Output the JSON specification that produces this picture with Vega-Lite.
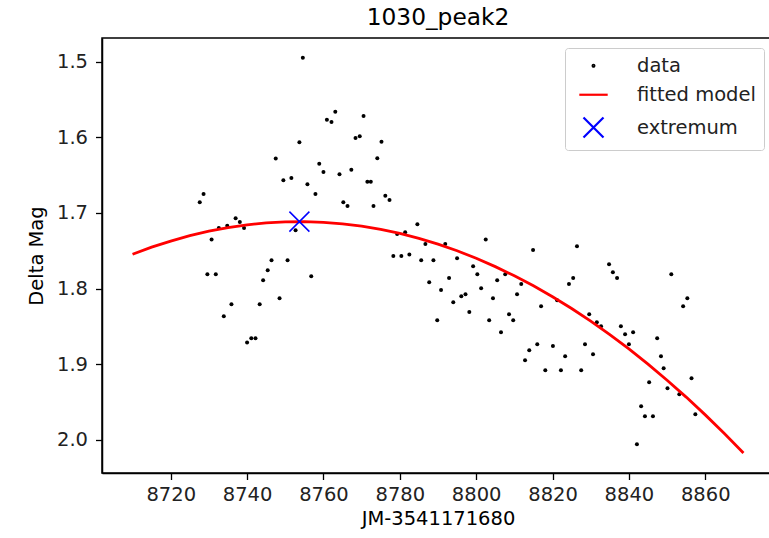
{
  "$schema": "https://vega.github.io/schema/vega-lite/v6.json",
  "width": 672,
  "height": 435,
  "autosize": {"type": "none"},
  "padding": {"left": 102, "top": 38, "right": 0, "bottom": 65},
  "background": "white",
  "title": {"text": "1030_peak2", "fontSize": 23.3, "font": "DejaVu Sans", "fontWeight": "normal", "color": "black", "offset": 8},
  "datasets": {
    "points": [
      {"t": 8754.6, "mag": 1.495}, {"t": 8753.7, "mag": 1.6065}, {"t": 8747.5, "mag": 1.628}, {"t": 8749.5, "mag": 1.657},
      {"t": 8751.6, "mag": 1.654}, {"t": 8755.8, "mag": 1.662}, {"t": 8757.9, "mag": 1.675}, {"t": 8758.9, "mag": 1.635},
      {"t": 8728.6, "mag": 1.675}, {"t": 8727.6, "mag": 1.686}, {"t": 8737.0, "mag": 1.707}, {"t": 8738.1, "mag": 1.712},
      {"t": 8739.2, "mag": 1.720}, {"t": 8734.8, "mag": 1.717}, {"t": 8732.6, "mag": 1.720}, {"t": 8730.7, "mag": 1.735},
      {"t": 8752.7, "mag": 1.723}, {"t": 8729.6, "mag": 1.781}, {"t": 8731.8, "mag": 1.781}, {"t": 8735.9, "mag": 1.8207},
      {"t": 8733.9, "mag": 1.8365}, {"t": 8740.0, "mag": 1.8714}, {"t": 8741.1, "mag": 1.8656}, {"t": 8742.2, "mag": 1.8656},
      {"t": 8743.3, "mag": 1.8207}, {"t": 8744.2, "mag": 1.789}, {"t": 8745.4, "mag": 1.7757}, {"t": 8746.4, "mag": 1.7625},
      {"t": 8748.5, "mag": 1.8128}, {"t": 8750.6, "mag": 1.7625}, {"t": 8756.8, "mag": 1.7836}, {"t": 8763.1, "mag": 1.5665},
      {"t": 8760.9, "mag": 1.577}, {"t": 8762.1, "mag": 1.580}, {"t": 8770.5, "mag": 1.572}, {"t": 8768.4, "mag": 1.601},
      {"t": 8769.5, "mag": 1.5986}, {"t": 8775.2, "mag": 1.6061}, {"t": 8774.1, "mag": 1.6277}, {"t": 8760.0, "mag": 1.646},
      {"t": 8764.2, "mag": 1.649}, {"t": 8767.3, "mag": 1.643}, {"t": 8771.5, "mag": 1.659}, {"t": 8772.4, "mag": 1.659},
      {"t": 8765.2, "mag": 1.686}, {"t": 8766.3, "mag": 1.691}, {"t": 8773.1, "mag": 1.691}, {"t": 8776.2, "mag": 1.6775},
      {"t": 8777.3, "mag": 1.683}, {"t": 8784.6, "mag": 1.715}, {"t": 8781.4, "mag": 1.7255}, {"t": 8779.3, "mag": 1.728},
      {"t": 8802.5, "mag": 1.735}, {"t": 8778.3, "mag": 1.757}, {"t": 8780.4, "mag": 1.757}, {"t": 8782.5, "mag": 1.755},
      {"t": 8786.7, "mag": 1.741}, {"t": 8785.6, "mag": 1.7625}, {"t": 8788.8, "mag": 1.7625}, {"t": 8791.9, "mag": 1.741},
      {"t": 8787.7, "mag": 1.7916}, {"t": 8790.8, "mag": 1.802}, {"t": 8792.9, "mag": 1.786}, {"t": 8795.0, "mag": 1.760},
      {"t": 8794.0, "mag": 1.818}, {"t": 8796.1, "mag": 1.810}, {"t": 8797.2, "mag": 1.8074}, {"t": 8789.8, "mag": 1.8418},
      {"t": 8798.2, "mag": 1.831}, {"t": 8799.2, "mag": 1.7704}, {"t": 8800.3, "mag": 1.781}, {"t": 8801.3, "mag": 1.7995},
      {"t": 8803.4, "mag": 1.8418}, {"t": 8804.4, "mag": 1.8128}, {"t": 8805.5, "mag": 1.789}, {"t": 8807.6, "mag": 1.781},
      {"t": 8806.5, "mag": 1.8577}, {"t": 8808.6, "mag": 1.8339}, {"t": 8809.7, "mag": 1.8418}, {"t": 8810.7, "mag": 1.8074},
      {"t": 8811.8, "mag": 1.794}, {"t": 8813.9, "mag": 1.8814}, {"t": 8812.8, "mag": 1.8946}, {"t": 8814.9, "mag": 1.749},
      {"t": 8816.0, "mag": 1.8735}, {"t": 8817.0, "mag": 1.8233}, {"t": 8818.1, "mag": 1.9079}, {"t": 8820.1, "mag": 1.876},
      {"t": 8821.2, "mag": 1.8154}, {"t": 8822.2, "mag": 1.9079}, {"t": 8823.3, "mag": 1.8894}, {"t": 8824.3, "mag": 1.794},
      {"t": 8825.4, "mag": 1.786}, {"t": 8826.4, "mag": 1.744}, {"t": 8827.5, "mag": 1.9079}, {"t": 8828.5, "mag": 1.8735},
      {"t": 8829.6, "mag": 1.8339}, {"t": 8830.6, "mag": 1.8867}, {"t": 8831.6, "mag": 1.8444}, {"t": 8832.7, "mag": 1.8497},
      {"t": 8834.8, "mag": 1.7678}, {"t": 8835.8, "mag": 1.7783}, {"t": 8836.9, "mag": 1.786}, {"t": 8837.9, "mag": 1.8497},
      {"t": 8839.0, "mag": 1.8603}, {"t": 8840.0, "mag": 1.8735}, {"t": 8841.1, "mag": 1.8577}, {"t": 8842.1, "mag": 2.0057},
      {"t": 8843.2, "mag": 1.9555}, {"t": 8844.2, "mag": 1.9687}, {"t": 8846.3, "mag": 1.9687}, {"t": 8845.3, "mag": 1.9237},
      {"t": 8847.4, "mag": 1.8656}, {"t": 8848.4, "mag": 1.8894}, {"t": 8849.1, "mag": 1.9052}, {"t": 8851.1, "mag": 1.781},
      {"t": 8850.1, "mag": 1.9317}, {"t": 8853.2, "mag": 1.9396}, {"t": 8854.2, "mag": 1.8233}, {"t": 8855.3, "mag": 1.8128},
      {"t": 8856.4, "mag": 1.9185}, {"t": 8857.4, "mag": 1.966}
    ],
    "model": [
      {"t": 8710, "mag": 1.7547}, {"t": 8715, "mag": 1.7453}, {"t": 8720, "mag": 1.7372}, {"t": 8725, "mag": 1.7301},
      {"t": 8730, "mag": 1.7242}, {"t": 8735, "mag": 1.7194}, {"t": 8740, "mag": 1.7157}, {"t": 8745, "mag": 1.7132},
      {"t": 8750, "mag": 1.7118}, {"t": 8755, "mag": 1.7115}, {"t": 8760, "mag": 1.7124}, {"t": 8765, "mag": 1.7144},
      {"t": 8770, "mag": 1.7175}, {"t": 8775, "mag": 1.7218}, {"t": 8780, "mag": 1.7271}, {"t": 8785, "mag": 1.7336},
      {"t": 8790, "mag": 1.7413}, {"t": 8795, "mag": 1.7500}, {"t": 8800, "mag": 1.7600}, {"t": 8805, "mag": 1.7710},
      {"t": 8810, "mag": 1.7831}, {"t": 8815, "mag": 1.7964}, {"t": 8820, "mag": 1.8108}, {"t": 8825, "mag": 1.8264},
      {"t": 8830, "mag": 1.8431}, {"t": 8835, "mag": 1.8609}, {"t": 8840, "mag": 1.8798}, {"t": 8845, "mag": 1.8999},
      {"t": 8850, "mag": 1.9211}, {"t": 8855, "mag": 1.9434}, {"t": 8860, "mag": 1.9669}, {"t": 8865, "mag": 1.9915},
      {"t": 8870, "mag": 2.0172}
    ],
    "ext": [{"t": 8753.7, "mag": 1.7115}]
  },
  "encoding": {
    "x": {"field": "t", "type": "quantitative", "scale": {"domain": [8702, 8878], "nice": false, "zero": false},
      "axis": {"title": "JM-3541171680", "values": [8720, 8740, 8760, 8780, 8800, 8820, 8840, 8860], "format": "d"}},
    "y": {"field": "mag", "type": "quantitative", "scale": {"domain": [1.4689, 2.0437], "nice": false, "zero": false, "reverse": true},
      "axis": {"title": "Delta Mag", "values": [1.5, 1.6, 1.7, 1.8, 1.9, 2.0], "format": ".1f"}}
  },
  "layer": [
    {
      "data": {"name": "points"},
      "mark": {"type": "point", "filled": true, "opacity": 1, "color": "black", "size": 16}
    },
    {
      "data": {"name": "model"},
      "mark": {"type": "line", "color": "red", "strokeWidth": 2.8},
      "encoding": {}
    },
    {
      "data": {"name": "ext"},
      "mark": {"type": "point", "filled": false, "strokeWidth": 1.5, "opacity": 1},
      "encoding": {
        "color": {"datum": "extremum", "type": "nominal", "scale": {"domain": ["data", "fitted model", "extremum"], "range": ["black", "red", "blue"]},
          "legend": {
            "title": null, "orient": "top-right", "offset": 10, "padding": 8, "strokeColor": "#cccccc", "fillColor": "white", "cornerRadius": 3,
            "labelFontSize": 19.5, "labelFont": "DejaVu Sans", "labelColor": "#222222", "rowPadding": 8, "labelOffset": 32, "symbolOffset": 9,
            "symbolStrokeWidth": 2.2
          }},
        "shape": {"datum": "extremum", "type": "nominal", "scale": {"domain": ["data", "fitted model", "extremum"], "range": ["circle", "M-2,0L2,0", "M-1,-1L1,1M-1,1L1,-1"]}},
        "size": {"datum": "extremum", "type": "nominal", "scale": {"domain": ["data", "fitted model", "extremum"], "range": [3, 400, 160]}}
      }
    }
  ],
  "config": {
    "view": {"stroke": "black", "strokeWidth": 1.5},
    "font": "DejaVu Sans",
    "axis": {
      "grid": false, "domainColor": "black", "domainWidth": 1.5, "tickColor": "black", "tickSize": 6.5, "tickWidth": 1.3,
      "labelFont": "DejaVu Sans", "labelFontSize": 19.5, "labelColor": "#222222", "labelPadding": 6,
      "titleFont": "DejaVu Sans", "titleFontSize": 19.5, "titleFontWeight": "normal", "titleColor": "black"
    },
    "axisX": {"labelPadding": 6, "titlePadding": 5},
    "axisY": {"labelPadding": 8, "titlePadding": 10}
  }
}
